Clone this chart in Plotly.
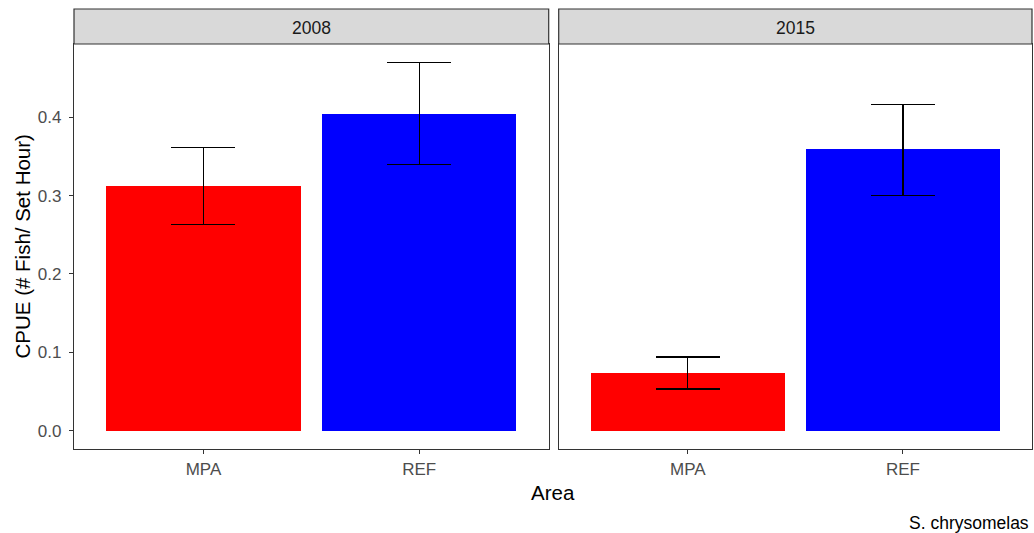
import plotly.graph_objects as go

years = ["2008", "2015"]
areas = ["MPA", "REF"]
cpue_2008 = [0.312, 0.404]
upper_2008 = [0.361, 0.470]
lower_2008 = [0.263, 0.340]
cpue_2015 = [0.074, 0.359]
upper_2015 = [0.094, 0.416]
lower_2015 = [0.053, 0.300]
bar_colors = ["#FF0000", "#0000FF"]
y_ticks = [0.0, 0.1, 0.2, 0.3, 0.4]

W, H = 1034, 533
FONT = "Liberation Sans, Arial, sans-serif"

fig = go.Figure()

panels = [
    (cpue_2008, upper_2008, lower_2008, "x", "y"),
    (cpue_2015, upper_2015, lower_2015, "x2", "y2"),
]
for vals, up, lo, xa, ya in panels:
    fig.add_trace(go.Bar(
        x=areas, y=vals, width=0.9,
        marker=dict(color=bar_colors, line=dict(width=0)),
        error_y=dict(type="data", symmetric=False,
                     array=[u - v for u, v in zip(up, vals)],
                     arrayminus=[v - l for v, l in zip(vals, lo)],
                     color="black", thickness=1.3, width=32),
        xaxis=xa, yaxis=ya, showlegend=False, hoverinfo="skip",
    ))

x_doms = [[74 / W, 548.7 / W], [558.7 / W, 1032 / W]]
y_dom = [1 - 449 / H, 1 - 44 / H]
yr = [-0.0235, 0.4935]

axis_common = dict(showline=True, mirror=True, linecolor="#333333", linewidth=1.2,
                   showgrid=False, zeroline=False, ticks="outside", ticklen=4,
                   tickcolor="#333333", tickwidth=1.2,
                   tickfont=dict(family=FONT, size=17, color="#4D4D4D"))

fig.update_layout(
    width=W, height=H, margin=dict(l=0, r=0, t=0, b=0),
    paper_bgcolor="white", plot_bgcolor="white",
    bargap=0,
    xaxis=dict(domain=x_doms[0], type="category", range=[-0.6, 1.6], anchor="y",
               ticklabelstandoff=0, **axis_common),
    xaxis2=dict(domain=x_doms[1], type="category", range=[-0.6, 1.6], anchor="y2",
                ticklabelstandoff=0, **axis_common),
    yaxis=dict(domain=y_dom, range=yr, anchor="x", tickvals=y_ticks, tickformat=".1f",
               ticklabelstandoff=4, **axis_common),
    yaxis2=dict(domain=y_dom, range=yr, anchor="x2", tickvals=y_ticks, showticklabels=False,
                **{k: v for k, v in axis_common.items() if k not in ("ticks",)}, ticks=""),
)

shapes = []
annotations = []
for dom, yr_label in zip(x_doms, years):
    shapes.append(dict(type="rect", xref="paper", yref="paper",
                       x0=dom[0], x1=dom[1], y0=1 - 44 / H, y1=1 - 9 / H,
                       fillcolor="#D9D9D9", line=dict(color="#333333", width=1.2), layer="above"))
    annotations.append(dict(text=yr_label, xref="paper", yref="paper",
                            x=(dom[0] + dom[1]) / 2, y=1 - 27.5 / H, showarrow=False,
                            xanchor="center", yanchor="middle",
                            font=dict(family=FONT, size=17.5, color="#1A1A1A")))

annotations.append(dict(text="Area", xref="paper", yref="paper", x=553 / W, y=1 - 492 / H,
                        showarrow=False, xanchor="center", yanchor="middle",
                        font=dict(family=FONT, size=20.5, color="black")))
annotations.append(dict(text="CPUE (# Fish/ Set Hour)", xref="paper", yref="paper",
                        x=22.5 / W, y=1 - 247 / H, showarrow=False, textangle=-90,
                        xanchor="center", yanchor="middle",
                        font=dict(family=FONT, size=20.5, color="black")))
annotations.append(dict(text="S. chrysomelas", xref="paper", yref="paper", x=1031 / W,
                        y=1 - 522.5 / H, showarrow=False, xanchor="right", yanchor="middle",
                        font=dict(family=FONT, size=17.5, color="black")))

fig.update_layout(shapes=shapes, annotations=annotations)
fig.write_html("out.html", config={"displayModeBar": False},
               post_script="document.body.style.margin='0';document.body.style.padding='0';"
                           "document.body.style.overflow='hidden';")
